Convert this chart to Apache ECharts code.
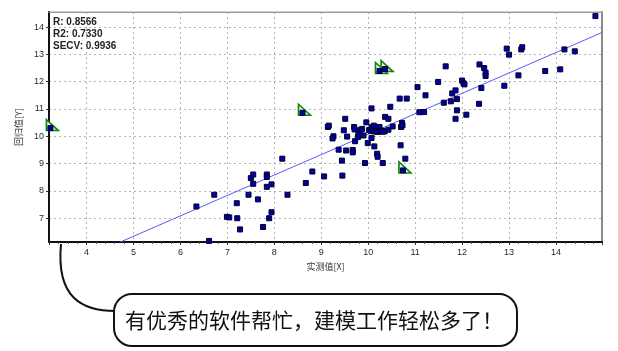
<!DOCTYPE html>
<html>
<head>
<meta charset="utf-8">
<script src="https://cdn.jsdelivr.net/npm/echarts@6/dist/echarts.min.js"></script>
<style>
html,body{margin:0;padding:0;background:#fff}
#main{width:618px;height:351px}
</style>
</head>
<body>
<div id="main"></div>
<script>
const measX = [6.61,6.34,6.72,6.99,7.04,7.21,7.27,7.20,7.45,7.65,7.50,7.55,7.55,7.84,7.84,7.84,7.94,7.76,7.89,7.94,
  8.17,8.28,8.67,8.81,9.06,9.37,9.45,9.44,9.53,9.67,9.67,9.93,9.99,10.13,10.19,10.20,10.31,10.69,10.79,
  9.14,9.16,9.26,9.24,9.51,9.48,9.55,9.70,9.71,9.72,9.79,9.83,9.87,9.78,9.90,9.96,10.02,10.05,10.07,10.12,10.12,
  10.07,10.07,10.17,10.19,10.26,10.24,10.29,10.35,10.36,10.43,10.43,10.47,10.52,10.67,10.82,10.70,10.72,10.73,10.31,
  11.05,11.09,11.19,11.22,11.49,11.61,11.65,11.76,11.79,11.86,11.86,11.89,11.89,12.00,12.03,12.05,12.09,12.36,12.37,
  12.41,12.47,12.50,12.50,12.90,12.95,13.00,13.20,13.26,13.28,13.77,14.09,14.18,14.40,14.84];
const predY = [6.17,7.43,7.86,7.05,7.03,7.00,6.59,7.55,7.86,7.69,8.47,8.60,8.26,8.60,8.51,8.15,8.24,6.68,7.00,7.22,
  9.18,7.86,8.29,8.71,8.53,9.51,8.56,9.11,9.48,9.50,9.41,9.02,9.75,9.63,9.36,9.25,9.02,9.67,9.18,
  10.34,10.39,10.00,9.92,10.64,10.22,9.99,10.34,10.25,9.82,10.11,10.23,10.27,9.97,10.03,10.51,10.23,10.20,10.33,10.39,10.18,
  9.94,11.02,10.20,10.16,10.18,10.34,10.20,10.18,10.71,10.64,10.24,11.08,10.36,11.38,11.38,10.34,10.49,10.40,10.17,
  11.80,10.88,10.89,11.50,11.99,11.23,12.56,11.28,11.57,11.68,10.64,11.36,10.95,12.04,11.94,11.90,10.79,11.19,12.63,
  11.77,12.50,12.33,12.21,11.85,13.21,12.99,12.23,13.18,13.26,12.39,12.45,13.18,13.11,14.40];

// 异常样本 (green triangles)
const outX = [3.23, 8.60, 10.24, 10.36, 10.74];
const outY = [10.30, 10.86, 12.39, 12.46, 8.75];

// 回归线两端
const fitX = [4.72, 14.98];
const fitY = [6.13, 13.80];

const xRange = [3.2, 14.98];
const yRange = [6.13, 14.55];
const statLines = ['R: 0.8566', 'R2: 0.7330', 'SECV: 0.9936'];
const note = '有优秀的软件帮忙，建模工作轻松多了！';

const pts = measX.map((x, i) => [x, predY[i]]);
const outPts = outX.map((x, i) => [x, outY[i]]);
const fitPts = fitX.map((x, i) => [x, fitY[i]]);

var myChart = echarts.init(document.getElementById('main'));

const labelFont = {color: '#2a2a2a', fontSize: 9, fontFamily: 'Liberation Sans'};
const dotted = {color: '#b4b4b4', width: 1, type: [2, 3]};

var option = {
  backgroundColor: '#fff',
  animation: false,
  grid: {left: 49, right: 16, top: 12, bottom: 109, show: true, borderColor: '#9a9a9a', borderWidth: 1},
  xAxis: [
    {
      type: 'value', min: xRange[0], max: xRange[1], splitNumber: 12,
      name: '实测值[X]', nameLocation: 'middle', nameGap: 19,
      nameTextStyle: {color: '#333', fontSize: 9, fontFamily: 'Noto Sans CJK SC'},
      axisLine: {lineStyle: {color: '#111', width: 2}},
      axisTick: {length: 3, lineStyle: {color: '#333'}},
      minorTick: {show: true, splitNumber: 5, length: 2, lineStyle: {color: '#555'}},
      axisLabel: Object.assign({margin: 6, showMinLabel: false, showMaxLabel: false}, labelFont),
      splitLine: {lineStyle: dotted}
    },
    {
      type: 'value', position: 'top', min: xRange[0], max: xRange[1],
      axisLine: {show: true, lineStyle: {color: '#9a9a9a', width: 1}},
      axisTick: {show: false}, axisLabel: {show: false}, splitLine: {show: false}
    }
  ],
  yAxis: [
    {
      type: 'value', min: yRange[0], max: yRange[1], splitNumber: 8,
      name: '回归值[Y]', nameLocation: 'middle', nameGap: 20, nameRotate: 90,
      nameTextStyle: {color: '#333', fontSize: 9, fontFamily: 'Noto Sans CJK SC'},
      axisLine: {show: true, lineStyle: {color: '#111', width: 2}},
      axisTick: {show: true, length: 3, lineStyle: {color: '#333'}},
      axisLabel: Object.assign({margin: 5, showMinLabel: false, showMaxLabel: false}, labelFont),
      splitLine: {lineStyle: dotted}
    },
    {
      type: 'value', position: 'right', min: yRange[0], max: yRange[1],
      axisLine: {show: true, lineStyle: {color: '#8a8a8a', width: 2}},
      axisTick: {show: false}, axisLabel: {show: false}, splitLine: {show: false}
    }
  ],
  series: [
    {
      name: '回归线',
      type: 'line',
      data: fitPts,
      showSymbol: false,
      silent: true,
      lineStyle: {color: '#5a5af5', width: 1},
      z: 2
    },
    {
      name: '异常',
      type: 'scatter',
      data: outPts,
      symbol: 'path://M0,0L0,12L12,12Z',
      symbolSize: [12, 11],
      symbolOffset: [2, -3],
      itemStyle: {color: '#eef8ee', borderColor: '#0f870f', borderWidth: 1.6, opacity: 1},
      z: 3
    },
    {
      name: '样本',
      type: 'scatter',
      data: pts.concat(outPts),
      symbol: 'rect',
      symbolSize: 5,
      itemStyle: {color: '#0000a8', borderColor: '#000028', borderWidth: 1, opacity: 1},
      z: 4
    }
  ],
  graphic: [
    {type: 'text', left: 53, top: 16, style: {text: statLines.join('\n'), font: 'bold 10px "Liberation Sans"', fill: '#222', lineHeight: 12}},
    {type: 'bezierCurve', shape: {x1: 61, y1: 244, cpx1: 56, cpy1: 298, cpx2: 82, cpy2: 311, x2: 116, y2: 311},
      style: {stroke: '#111', lineWidth: 2, fill: null}},
    {type: 'rect', shape: {x: 114, y: 294, width: 403, height: 52, r: 18},
      style: {fill: '#fff', stroke: '#111', lineWidth: 2}},
    {type: 'text', x: 314, y: 320, style: {text: note, font: '21px "Noto Sans CJK SC"', fill: '#111', align: 'center', verticalAlign: 'middle'}}
  ]
};

myChart.setOption(option);
</script>
</body>
</html>
